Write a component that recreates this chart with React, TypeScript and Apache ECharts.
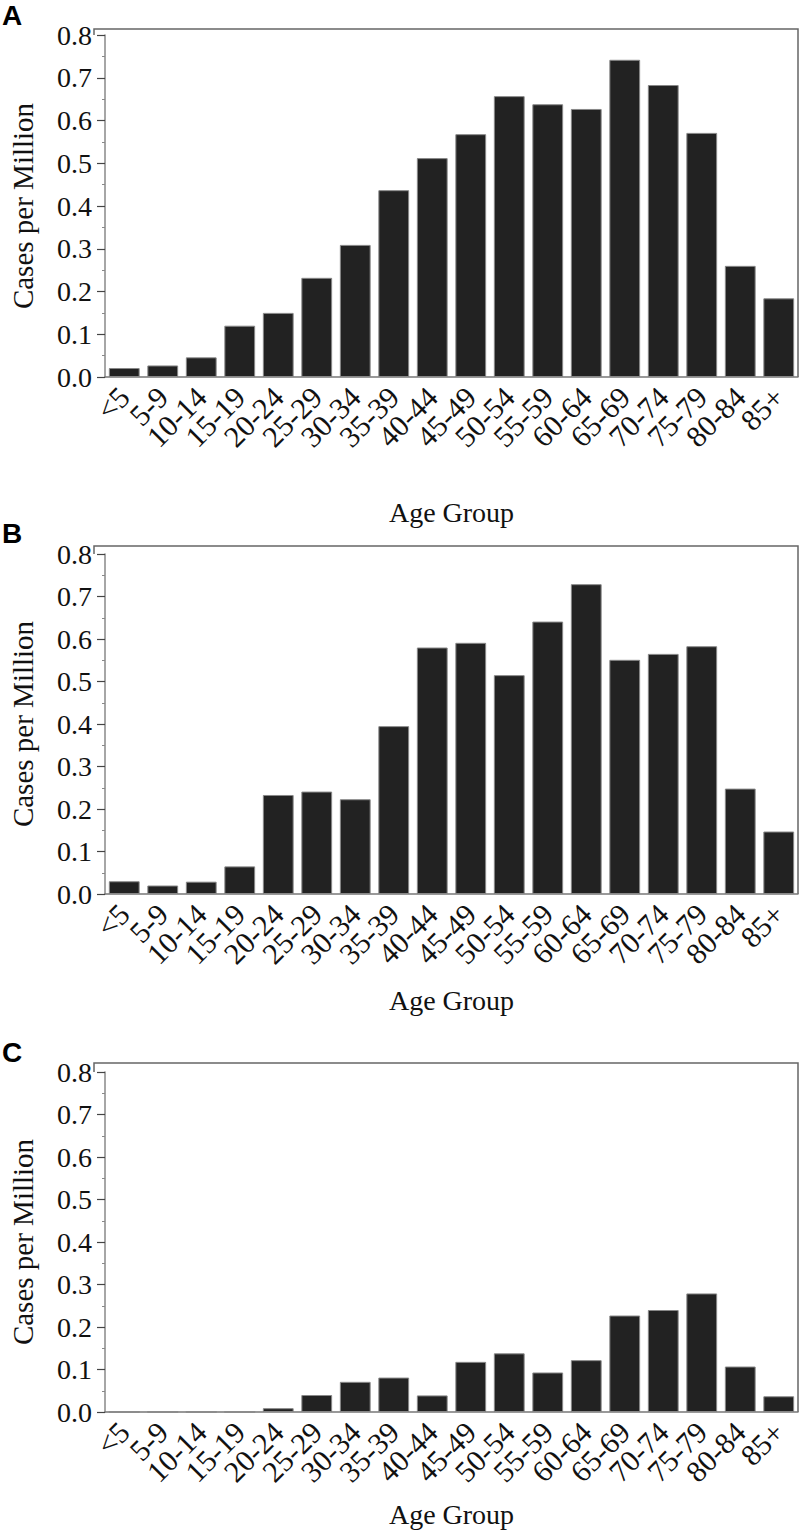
import React, { useEffect, useRef } from "react";
import * as echarts from "echarts";

const categories = ["<5", "5-9", "10-14", "15-19", "20-24", "25-29", "30-34", "35-39", "40-44", "45-49", "50-54", "55-59", "60-64", "65-69", "70-74", "75-79", "80-84", "85+"];
const valuesA = [0.021, 0.027, 0.046, 0.12, 0.15, 0.232, 0.309, 0.437, 0.512, 0.568, 0.657, 0.638, 0.627, 0.742, 0.683, 0.571, 0.26, 0.184];
const valuesB = [0.03, 0.02, 0.029, 0.065, 0.233, 0.241, 0.223, 0.395, 0.58, 0.591, 0.515, 0.641, 0.729, 0.551, 0.565, 0.583, 0.248, 0.147];
const valuesC = [0, 0, 0, 0, 0.009, 0.04, 0.071, 0.081, 0.039, 0.118, 0.138, 0.093, 0.122, 0.227, 0.24, 0.279, 0.107, 0.037];
const panelLetters = ["A", "B", "C"];
const yName = "Cases per Million";
const xName = "Age Group";

const SERIF = "'Liberation Serif', 'Times New Roman', serif";

export default function App() {
  const ref = useRef<HTMLDivElement>(null);
  useEffect(() => {
    if (!ref.current) return;
    const chart = echarts.init(ref.current, null, { renderer: "svg" });
    const panels = [
      { top: 35, height: 342, frameTop: 29, letterTop: 1, nameGap: 121, values: valuesA },
      { top: 554, height: 340, frameTop: 546, letterTop: 519, nameGap: 92, values: valuesB },
      { top: 1072, height: 340, frameTop: 1063, letterTop: 1038, nameGap: 88, values: valuesC },
    ];
    const left = 94;
    const right = 798;
    const grids = panels.map((p) => ({ left, top: p.top, width: right - left, height: p.height, containLabel: false }));
    const xAxes = panels.map((p, i) => ({
      type: "category",
      gridIndex: i,
      data: categories,
      name: xName,
      nameLocation: "middle",
      nameGap: p.nameGap,
      nameTextStyle: { fontFamily: SERIF, fontSize: 28, color: "#111" },
      axisLine: { show: true, lineStyle: { color: "#777", width: 1.5 } },
      axisTick: { show: false },
      axisLabel: { interval: 0, rotate: 45, fontFamily: SERIF, fontSize: 30, color: "#111", margin: 15 },
      splitLine: { show: false },
    }));
    const yAxes = panels.map((p, i) => ({
      type: "value",
      gridIndex: i,
      min: 0,
      max: 0.8,
      interval: 0.1,
      name: yName,
      nameLocation: "middle",
      nameGap: 68,
      nameTextStyle: { fontFamily: SERIF, fontSize: 29, color: "#111" },
      axisLine: { show: true, lineStyle: { color: "#888", width: 1.5 } },
      axisTick: { show: true, length: 8, lineStyle: { color: "#444", width: 1.2 } },
      minorTick: { show: true, splitNumber: 2, length: 3, lineStyle: { color: "#888", width: 1 } },
      splitLine: { show: false },
      minorSplitLine: { show: false },
      axisLabel: { fontFamily: SERIF, fontSize: 28, color: "#111", margin: 13, formatter: (v: number) => v.toFixed(1) },
    }));
    const series = panels.map((p, i) => ({
      type: "bar",
      xAxisIndex: i,
      yAxisIndex: i,
      data: p.values,
      barCategoryGap: "20%",
      itemStyle: { color: "#222", borderColor: "#888", borderWidth: 1 },
      silent: true,
    }));
    const graphics: any[] = [];
    panels.forEach((p, i) => {
      graphics.push({
        type: "polyline",
        shape: { points: [[left, p.top], [left, p.frameTop], [right, p.frameTop], [right, p.top + p.height]] },
        style: { fill: null, stroke: "#666", lineWidth: 1.5 },
        silent: true,
      });
      graphics.push({
        type: "text",
        left: 2,
        top: p.letterTop,
        style: { text: panelLetters[i], font: "bold 28px 'Liberation Sans', Arial, sans-serif", fill: "#000" },
      });
    });
    chart.setOption({
      animation: false,
      backgroundColor: "#fff",
      grid: grids,
      xAxis: xAxes,
      yAxis: yAxes,
      series,
      graphic: graphics,
    });
    return () => chart.dispose();
  }, []);
  return <div ref={ref} style={{ position: "absolute", left: 0, top: 0, width: 800, height: 1533 }} />;
}
